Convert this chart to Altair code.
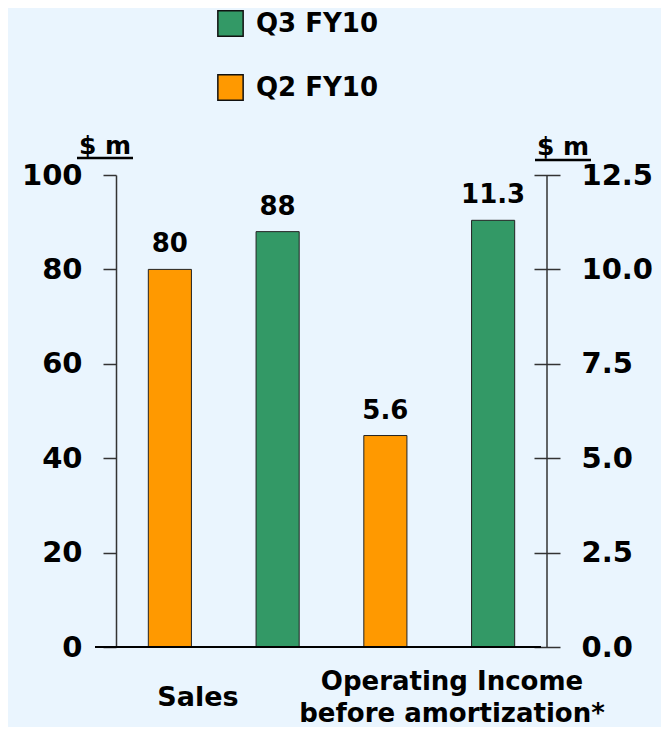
import altair as alt
import pandas as pd

# ---- data ----
metrics = ["Sales", "Sales", "Operating Income", "Operating Income"]
periods = ["Q2 FY10", "Q3 FY10", "Q2 FY10", "Q3 FY10"]
values = [80, 88, 5.6, 11.3]
labels = ["80", "88", "5.6", "11.3"]
slots = ["Sales Q2", "Sales Q3", "OI Q2", "OI Q3"]
left_ticks = [0, 20, 40, 60, 80, 100]
right_ticks = [0, 2.5, 5, 7.5, 10, 12.5]
legend_order = ["Q3 FY10", "Q2 FY10"]
legend_colors = ["#339966", "#FF9900"]
cat_sales = ["Sales"]
cat_oi = ["Operating Income", "before amortization*"]
unit_label = "$ m"

df = pd.DataFrame({"metric": metrics, "period": periods, "value": values,
                   "label": labels, "slot": slots})

FONT = "DejaVu Sans"
W, H = 431, 472

xenc = alt.X("slot:N", sort=slots, axis=None,
             scale=alt.Scale(paddingInner=0.6, paddingOuter=0.3))
color = alt.Color("period:N",
                  scale=alt.Scale(domain=legend_order, range=legend_colors),
                  legend=alt.Legend(title=None, orient="none", legendX=101, legendY=-165,
                                    symbolType="square", symbolSize=640,
                                    symbolStrokeColor="#111", symbolStrokeWidth=1.5,
                                    labelFont=FONT, labelFontSize=26, labelFontWeight="bold",
                                    labelColor="#000", labelOffset=12, rowPadding=31))

left_axis = alt.Axis(orient="left", values=left_ticks, format="d", grid=False,
                     tickSize=13, labelPadding=21, domainColor="#333", tickColor="#333",
                     domainWidth=1.5, tickWidth=1.5,
                     labelFont=FONT, labelFontSize=29, labelFontWeight="bold",
                     labelColor="#000", title=None)
right_axis = alt.Axis(orient="right", values=right_ticks, format=".1f", grid=False,
                      offset=-13, tickSize=26, labelPadding=21, domain=False,
                      tickColor="#333", tickWidth=1.5,
                      labelFont=FONT, labelFontSize=29, labelFontWeight="bold",
                      labelColor="#000", title=None)

base_s = alt.Chart(df).transform_filter(alt.datum.metric == "Sales")
bars_s = base_s.mark_bar(stroke="#222", strokeWidth=1).encode(
    x=xenc, y=alt.Y("value:Q", scale=alt.Scale(domain=[0, 100], nice=False), axis=left_axis),
    color=color)
text_s = base_s.mark_text(font=FONT, fontSize=26, fontWeight="bold", color="#000",
                          baseline="alphabetic", dy=-17).encode(
    x=xenc, y=alt.Y("value:Q"), text="label:N")
layer_s = alt.layer(bars_s, text_s)

base_o = alt.Chart(df).transform_filter(alt.datum.metric == "Operating Income")
bars_o = base_o.mark_bar(stroke="#222", strokeWidth=1).encode(
    x=xenc, y=alt.Y("value:Q", scale=alt.Scale(domain=[0, 12.5], nice=False), axis=right_axis),
    color=color)
text_o = base_o.mark_text(font=FONT, fontSize=26, fontWeight="bold", color="#000",
                          baseline="alphabetic", dy=-17).encode(
    x=xenc, y=alt.Y("value:Q"), text="label:N")
layer_o = alt.layer(bars_o, text_o)

dummy = alt.Data(values=[{}])
right_domain = alt.Chart(dummy).mark_rule(color="#333", strokeWidth=1.5).encode(
    x=alt.value(W), y=alt.value(0), y2=alt.value(H))
baseline = alt.Chart(dummy).mark_rule(color="#000", strokeWidth=2).encode(
    x=alt.value(-21), x2=alt.value(425), y=alt.value(H), y2=alt.value(H))

cat1 = alt.Chart(dummy).mark_text(font=FONT, fontSize=27, fontWeight="bold", color="#000",
                                  baseline="alphabetic", align="center").encode(
    x=alt.value(82), y=alt.value(531), text=alt.value(cat_sales))
cat2 = alt.Chart(dummy).mark_text(font=FONT, fontSize=26, fontWeight="bold", color="#000",
                                  baseline="alphabetic", align="center", lineHeight=32).encode(
    x=alt.value(336), y=alt.value(515), text=alt.value(cat_oi))

unit_l = alt.Chart(dummy).mark_text(font=FONT, fontSize=25, fontWeight="bold", color="#000",
                                    baseline="alphabetic", align="center").encode(
    x=alt.value(-11), y=alt.value(-21), text=alt.value(unit_label))
unit_l_ul = alt.Chart(dummy).mark_rule(color="#000", strokeWidth=2.5).encode(
    x=alt.value(-39), x2=alt.value(17), y=alt.value(-17), y2=alt.value(-17))
unit_r = alt.Chart(dummy).mark_text(font=FONT, fontSize=25, fontWeight="bold", color="#000",
                                    baseline="alphabetic", align="center").encode(
    x=alt.value(447), y=alt.value(-20), text=alt.value(unit_label))
unit_r_ul = alt.Chart(dummy).mark_rule(color="#000", strokeWidth=2.5).encode(
    x=alt.value(419), x2=alt.value(475), y=alt.value(-15), y2=alt.value(-15))

chart = alt.layer(
    alt.layer(layer_s, layer_o).resolve_scale(y="independent"),
    right_domain, baseline, cat1, cat2, unit_l, unit_l_ul, unit_r, unit_r_ul
).properties(
    width=W, height=H,
    autosize=alt.AutoSizeParams(type="none"),
    padding={"left": 108, "top": 167, "right": 114, "bottom": 80},
    background="#EAF5FE",
).configure_view(stroke=None)

chart.save("out.html", embed_options={"renderer": "svg", "actions": False})
